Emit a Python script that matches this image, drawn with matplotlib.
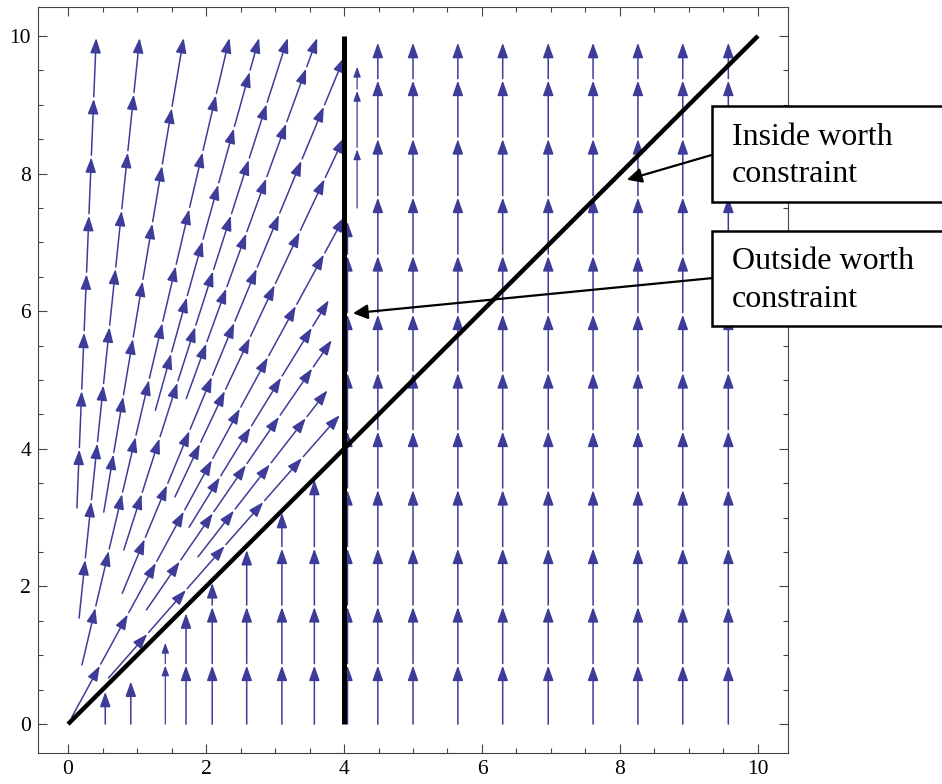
import numpy as np
import matplotlib
matplotlib.use("Agg")
import matplotlib.pyplot as plt
from matplotlib.patches import FancyArrowPatch, Rectangle, ArrowStyle
from matplotlib.ticker import MultipleLocator

# ---------- stream lines ----------
# radial lines through the origin: slope y/x, lower and upper y
ray_slope = [24.4, 9.6, 5.95, 4.26, 3.6, 3.13, 2.76, 2.42, 2.13, 1.84, 1.63, 1.46, 1.29, 1.14]
ray_y0    = [3.14, 1.54, 3.08, 0.86, 4.56, 2.53, 4.73, 1.90, 3.30, 0.10, 2.86, 1.66, 2.43, 0.67]
ray_y1    = [9.97, 9.97, 9.97, 9.97, 9.97, 9.97, 9.97, 9.69, 8.52, 7.37, 6.16, 5.58, 4.85, 4.49]

# vertical lines below the diagonal (x < 4)
low_x  = [0.54, 0.91, 1.41, 1.71, 2.09, 2.59, 3.10, 3.57]
low_y1 = [0.47, 0.62, 1.18, 1.61, 2.05, 2.53, 3.07, 3.55]

# vertical lines right of the worth boundary
right_x = [4.05, 4.49, 5.0, 5.65, 6.30, 6.96, 7.61, 8.26, 8.91, 9.57]
right_y0 = [0.0] * 10
right_y1 = [7.30, 9.90, 9.90, 9.90, 9.90, 9.90, 9.90, 9.90, 9.90, 9.90]

# short thin line just right of x = 4
short_x, short_y0, short_y1 = 4.19, 7.50, 9.55

labels = [["Inside worth", "constraint"], ["Outside worth", "constraint"]]

STEP = 0.85         # arrow spacing along a stream line
GAP = 0.03
SC = '#3d3d99'

fig = plt.figure(figsize=(9.42, 7.84), dpi=100)
ax = fig.add_axes([38/942, 31/784, 750/942, 746/784])
ax.set_xlim(-0.435, 10.435)
ax.set_ylim(-0.42, 10.42)


def stream(p0, p1, small=False):
    p0 = np.asarray(p0, float); p1 = np.asarray(p1, float)
    L = np.hypot(*(p1 - p0)); d = (p1 - p0) / L
    tips = []
    k = 1
    while STEP*k < L - 0.25:
        tips.append(STEP*k); k += 1
    tips.append(L)
    start = 0.0
    hl, hw, lw = (0.45, 0.16, 1.1) if not small else (0.3, 0.11, 0.9)
    for t in tips:
        a = FancyArrowPatch(p0 + d*start, p0 + d*t,
                            arrowstyle=ArrowStyle('-|>', head_length=hl, head_width=hw),
                            mutation_scale=20, shrinkA=0, shrinkB=0,
                            lw=lw, color=SC, zorder=2)
        ax.add_patch(a)
        start = t + GAP


for s, y0, y1 in zip(ray_slope, ray_y0, ray_y1):
    stream((y0/s, y0), (y1/s, y1))
for x, y1 in zip(low_x, low_y1):
    stream((x, 0.0), (x, y1), small=(x == 1.41))
for x, y0, y1 in zip(right_x, right_y0, right_y1):
    stream((x, y0), (x, y1))
stream((short_x, short_y0), (short_x, short_y1), small=True)

# ---------- constraints ----------
ax.plot([0, 10], [0, 10], color='black', lw=3.2, solid_capstyle='butt', zorder=4)
ax.plot([4, 4], [0, 10], color='black', lw=3.6, solid_capstyle='butt', zorder=4)

# ---------- axes styling ----------
serif = 'Liberation Serif'
ax.xaxis.set_major_locator(MultipleLocator(2))
ax.yaxis.set_major_locator(MultipleLocator(2))
ax.xaxis.set_minor_locator(MultipleLocator(0.5))
ax.yaxis.set_minor_locator(MultipleLocator(0.5))
ax.tick_params(which='both', direction='in', top=True, right=True, width=0.8, color='#444444')
ax.tick_params(which='major', length=6.5, labelsize=15.5, pad=5)
ax.tick_params(which='minor', length=3.5)
for lab in ax.get_xticklabels() + ax.get_yticklabels():
    lab.set_fontfamily(serif)
for sp in ax.spines.values():
    sp.set_linewidth(0.8); sp.set_color('#444444')

# ---------- callouts ----------
box_y = [7.59, 5.78]
arrow_src = [(9.33, 8.27), (9.33, 6.48)]
arrow_dst = [(8.10, 7.91), (4.13, 5.97)]
for by, lines, src, dst in zip(box_y, labels, arrow_src, arrow_dst):
    ax.add_patch(Rectangle((9.33, by), 5.0, 1.39, fill=True, fc='white', ec='black',
                           lw=1.8, clip_on=False, zorder=6))
    for i, line in enumerate(lines):
        ax.text(9.62, by + 0.83 - 0.55*i, line, fontsize=23, family=serif,
                va='baseline', ha='left', zorder=7, clip_on=False)
    ax.annotate('', xy=dst, xytext=src,
                arrowprops=dict(arrowstyle='-|>', color='black', lw=1.6,
                                mutation_scale=22, shrinkA=0, shrinkB=0), zorder=5)

fig.savefig('out.png', dpi=100)
